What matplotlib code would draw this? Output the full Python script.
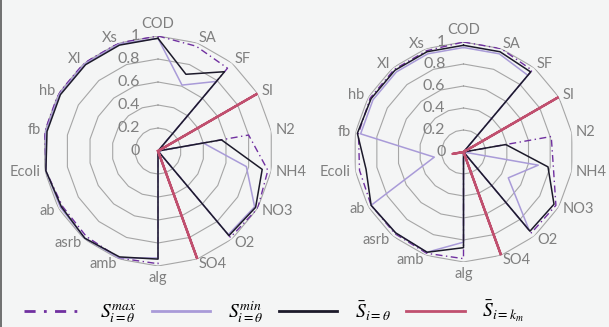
import numpy as np
import matplotlib
matplotlib.use("Agg")
import matplotlib.pyplot as plt
from matplotlib.lines import Line2D

plt.rcParams['font.family'] = ['Lato', 'DejaVu Sans']
plt.rcParams['mathtext.fontset'] = 'stix'

categories = ['COD', 'SA', 'SF', 'SI', 'N2', 'NH4', 'NO3', 'O2', 'SO4', 'alg',
              'amb', 'asrb', 'ab', 'Ecoli', 'fb', 'hb', 'XI', 'Xs']
rings = [0.2, 0.4, 0.6, 0.8, 1.0]
ring_labels = ['0', '0.2', '0.4', '0.6', '0.8', '1']

# left chart
left_max = [1.0, 0.97, 0.94, 0, 0.80, 0.97, 1.0, 0.98, 0, 0.98, 0.99, 0.97, 0.96, 0.99, 1.0, 1.0, 1.0, 1.0]
left_min = [0.98, 0.61, 0.79, 0, 0.40, 0.78, 0.97, 0.95, 0, 0.93, 0.99, 0.99, 0.98, 0.99, 0.99, 0.99, 0.99, 0.99]
left_mean = [0.98, 0.71, 0.90, 0, 0.56, 0.92, 0.98, 0.96, 0, 0.94, 0.98, 0.99, 0.97, 0.99, 0.98, 0.98, 0.98, 0.98]
left_km = [0, 0, 0, 1.0, 0, 0, 0, 0, 1.0, 0, 0, 0, 0, 0, 0, 0, 0, 0]

# right chart
right_max = [1.0, 1.0, 0.97, 0, 0.81, 0.83, 0.97, 0.96, 0, 0.97, 0.98, 0.97, 0.97, 0.96, 0.97, 0.98, 0.98, 0.98]
right_min = [0.95, 0.95, 0.91, 0, 0, 0.69, 0.47, 0.93, 0, 0.82, 0.97, 0.96, 0.97, 0.27, 0.95, 0.95, 0.95, 0.95]
right_mean = [0.97, 0.97, 0.95, 0, 0.39, 0.78, 0.95, 0.94, 0, 0.87, 0.97, 0.96, 0.97, 0.90, 0.98, 0.97, 0.97, 0.97]
right_km = [0, 0, 0, 1.0, 0, 0, 0, 0, 1.0, 0, 0, 0, 0, 0.1, 0, 0, 0, 0]

c_max = '#7030a0'
c_min = '#a99bd8'
c_mean = '#1c1a2a'
c_km = '#c0506f'
c_text = '#7f7f7f'
c_grid = '#a6a6a6'
bg = '#f4f5f5'

n = len(categories)
angles = np.linspace(0, 2 * np.pi, n, endpoint=False)
closed = np.append(angles, angles[0])


def close(v):
    return np.append(v, v[0])


def radar(ax, vmax, vmin, vmean, vkm):
    ax.set_theta_offset(np.pi / 2)
    ax.set_theta_direction(-1)
    ax.set_ylim(0, 1)
    ax.axis('off')
    for r in rings:
        ax.plot(closed, [r] * (n + 1), color=c_grid, lw=0.8, zorder=1)
    ax.plot(closed, close(vmax), color=c_max, lw=1.0, dashes=(5, 2.5, 1, 2.5), zorder=2)
    ax.plot(closed, close(vmin), color=c_min, lw=1.1, zorder=3)
    ax.plot(closed, close(vmean), color=c_mean, lw=1.1, zorder=4)
    ax.plot(closed, close(vkm), color=c_km, lw=1.7, zorder=5)
    for r, lab in zip([0] + rings, ring_labels):
        ax.annotate(lab, xy=(0, r), xytext=(-13, 0), textcoords='offset points',
                    ha='right', va='center', color=c_text, fontsize=11.5, zorder=6)
    for a, lab in zip(angles, categories):
        s, c = np.sin(a), np.cos(a)
        ha = 'center' if abs(s) < 0.1 else ('left' if s > 0 else 'right')
        va = 'center'
        if c > 0.95:
            va = 'bottom'
        elif c < -0.95:
            va = 'top'
        ax.annotate(lab, xy=(a, 1), xytext=(3 * s, 3.5 * c), textcoords='offset points',
                    ha=ha, va=va, color=c_text, fontsize=10.5)


fig = plt.figure(figsize=(6.09, 3.27), dpi=100, facecolor=bg)
ax1 = fig.add_axes([0.0706, 0.1865, 0.3777, 0.7034], projection='polar')
ax2 = fig.add_axes([0.5805, 0.1988, 0.3612, 0.6728], projection='polar')
for ax in (ax1, ax2):
    ax.set_facecolor('none')
radar(ax1, left_max, left_min, left_mean, left_km)
radar(ax2, right_max, right_min, right_mean, right_km)

handles = [Line2D([], [], color=c_max, lw=2, dashes=(4, 3, 1, 3)),
           Line2D([], [], color=c_min, lw=2),
           Line2D([], [], color=c_mean, lw=2),
           Line2D([], [], color=c_km, lw=2)]
labels = [r'$S_{i=\theta}^{max}$', r'$S_{i=\theta}^{min}$',
          r'$\bar{S}_{i=\theta}$', r'$\bar{S}_{i=k_m}$']
fig.legend(handles, labels, loc='center', bbox_to_anchor=(0.45, 0.045), ncol=4,
           frameon=False, fontsize=14, handlelength=3.0, handletextpad=0.9,
           columnspacing=0.8)

fig.add_artist(Line2D([0.002, 0.002], [0, 1], color='#595959', lw=1.2))

fig.savefig('out.png', dpi=100, facecolor=bg)
